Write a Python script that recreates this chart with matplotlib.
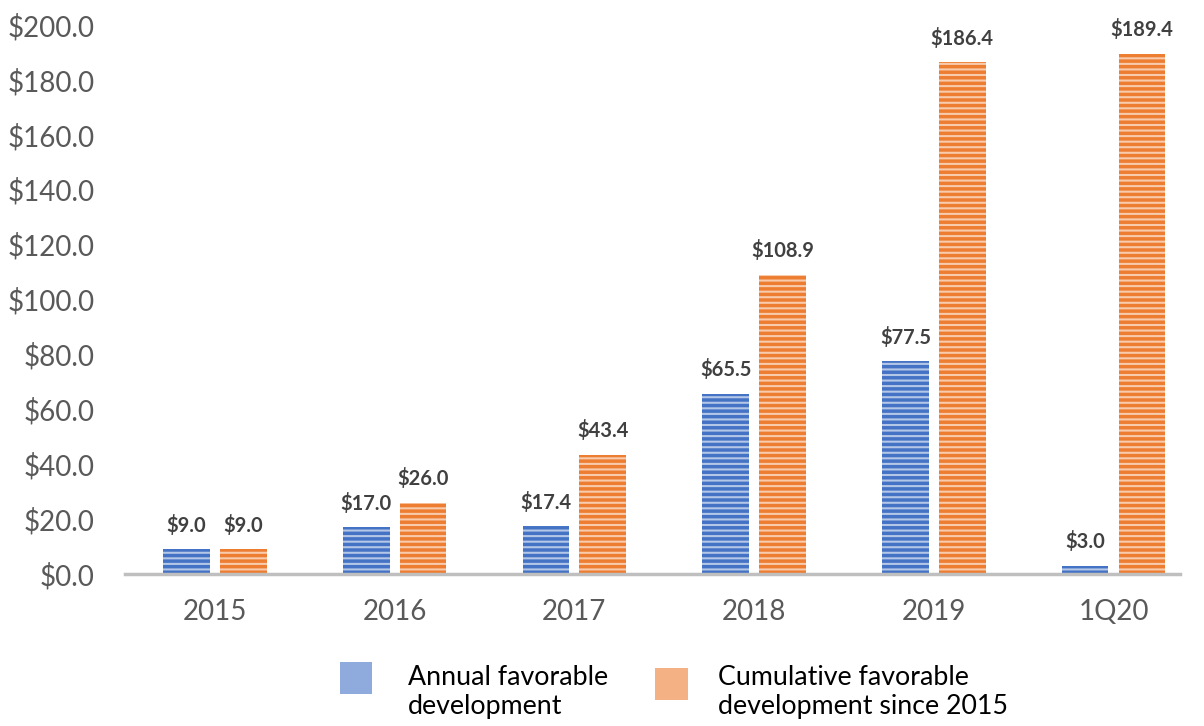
import matplotlib
matplotlib.use("Agg")
import matplotlib.pyplot as plt
import numpy as np
from matplotlib.patches import Rectangle

categories = ["2015", "2016", "2017", "2018", "2019", "1Q20"]
annual = [9.0, 17.0, 17.4, 65.5, 77.5, 3.0]
cumulative = [9.0, 26.0, 43.4, 108.9, 186.4, 189.4]
yticks = [0, 20, 40, 60, 80, 100, 120, 140, 160, 180, 200]
series_names = ["Annual favorable\ndevelopment", "Cumulative favorable\ndevelopment since 2015"]

plt.rcParams['font.family'] = ['Lato', 'DejaVu Sans']
plt.rcParams['hatch.linewidth'] = 1.5

W, H = 1204, 726
fig = plt.figure(figsize=(W / 100, H / 100), dpi=100)
ax = fig.add_axes([125 / W, 1 - 574 / H, 1055 / W, (574 - 25) / H])

x = np.arange(len(categories))
w = 0.26
gap = 0.028
blue = "#4472C4"
orange = "#ED7D31"

b1 = ax.bar(x - w / 2 - gap, annual, w, color=blue, linewidth=0, hatch='---')
b2 = ax.bar(x + w / 2 + gap, cumulative, w, color=orange, linewidth=0, hatch='---')
for p in b1:
    p.set_edgecolor('#B4C7E7')
for p in b2:
    p.set_edgecolor('#F8CBAD')

for xi, v in zip(x - w / 2 - gap, annual):
    ax.text(xi, v + 5, f"${v:.1f}", ha='center', va='bottom', fontsize=14.5,
            fontweight='bold', color='#404040')
for xi, v in zip(x + w / 2 + gap, cumulative):
    ax.text(xi, v + 5, f"${v:.1f}", ha='center', va='bottom', fontsize=14.5,
            fontweight='bold', color='#404040')

ax.set_xlim(-0.5, 5.37)
ax.set_ylim(0, 200)
ax.set_yticks(yticks)
ax.set_yticklabels([f"${t:.1f}" for t in yticks], fontsize=20, color='#595959')
ax.set_xticks(x)
ax.set_xticklabels(categories, fontsize=20, color='#595959')
ax.tick_params(axis='x', length=0, pad=18)
ax.tick_params(axis='y', length=0, pad=22)
for s in ['top', 'right', 'left']:
    ax.spines[s].set_visible(False)
ax.spines['bottom'].set_color('#BFBFBF')
ax.spines['bottom'].set_linewidth(2.5)

# legend
fig.patches.append(Rectangle((340 / W, 1 - 694 / H), 32 / W, 32 / H,
                             transform=fig.transFigure, facecolor='#8FAADC', edgecolor='none'))
fig.patches.append(Rectangle((655 / W, 1 - 700 / H), 33 / W, 32 / H,
                             transform=fig.transFigure, facecolor='#F4B183', edgecolor='none'))
fig.text(408 / W, 1 - 692 / H, series_names[0], ha='left', va='center', fontsize=19.3,
         color='black', linespacing=1.2)
fig.text(718 / W, 1 - 692 / H, series_names[1], ha='left', va='center', fontsize=19.3,
         color='black', linespacing=1.2)

fig.savefig("out.png", dpi=100)
